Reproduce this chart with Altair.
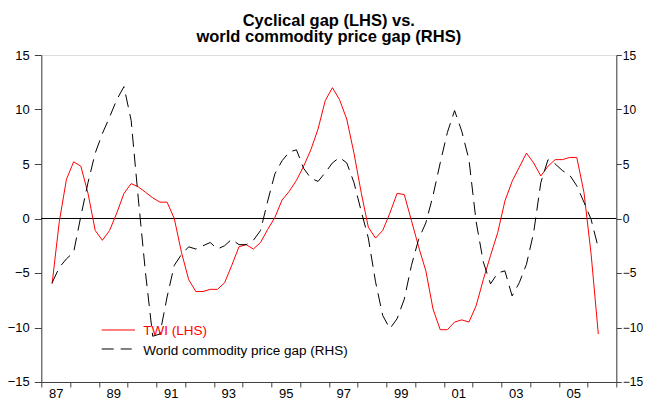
import altair as alt
import pandas as pd

# ---------------- data ----------------
title_lines = ["Cyclical gap (LHS) vs.", "world commodity price gap (RHS)"]
series_names = ["TWI (LHS)", "World commodity price gap (RHS)"]
first_quarter = "1987Q2"

twi = [-6.0, -0.3, 3.6, 5.2, 4.8, 2.3, -1.1, -2.0, -1.1, 0.5,
       2.3, 3.2, 2.9, 2.4, 1.9, 1.5, 1.5, 0.0, -3.1, -5.6,
       -6.7, -6.7, -6.5, -6.5, -5.9, -4.3, -2.6, -2.4, -2.8, -2.2,
       -1.0, 0.1, 1.7, 2.5, 3.5, 4.8, 6.3, 8.2, 10.8, 12.0,
       10.9, 9.1, 6.0, 2.4, -0.8, -1.8, -1.1, 0.5, 2.3, 2.2,
       -0.2, -2.6, -4.8, -8.3, -10.2, -10.2, -9.5, -9.3, -9.5, -8.0,
       -5.6, -3.4, -1.3, 1.6, 3.4, 4.7, 6.0, 5.1, 3.9, 4.8,
       5.4, 5.4, 5.6, 5.6, 2.4, -3.3, -10.6]

commodity = [-5.9, -4.5, -3.7, -3.1, 0.2, 3.3, 6.0, 7.8, 9.3, 10.9,
             12.1, 9.0, 1.8, -5.0, -10.8, -10.6, -7.2, -4.3, -3.3, -2.6,
             -2.8, -2.5, -2.2, -2.8, -2.5, -1.9, -2.4, -2.4, -2.0, -1.1,
             1.6, 4.1, 5.3, 6.1, 6.3, 4.6, 3.7, 3.4, 4.2, 5.1,
             5.6, 5.1, 3.3, 0.7, -1.8, -5.8, -8.9, -10.1, -9.2, -7.4,
             -4.3, -1.9, -0.4, 2.1, 5.1, 7.9, 9.9, 8.0, 5.4, -0.3,
             -4.0, -6.0, -5.0, -4.8, -7.1, -5.9, -4.2, -1.3, 3.3, 5.4,
             5.0, 4.4, 4.0, 3.0, 1.5, -0.1, -2.7]

year_ticks = list(range(1987, 2008))
year_labels = {1987: "87", 1989: "89", 1991: "91", 1993: "93", 1995: "95",
               1997: "97", 1999: "99", 2001: "01", 2003: "03", 2005: "05"}
y_ticks = [-15, -10, -5, 0, 5, 10, 15]
y_domain = [-15, 15]
x_domain = [1987, 2007]

# ---------------- build ----------------
quarters = pd.period_range(first_quarter, periods=len(twi), freq="Q")
t = [p.year + (p.quarter - 1) / 4 + 0.125 for p in quarters]
df = pd.DataFrame({"t": t, "twi": twi, "commodity": commodity})

W, H = 575, 327
FONT = "Liberation Sans"
AX = "#404040"

label_expr = ""
for yr, lab in year_labels.items():
    label_expr += f"datum.value == {yr} ? '{lab}' : "
label_expr += "''"

x_enc = alt.X(
    "t:Q",
    scale=alt.Scale(domain=x_domain, nice=False, zero=False),
    axis=alt.Axis(values=year_ticks, labelExpr=label_expr, labelOffset=W / 20 / 2,
                  tickSize=5, labelPadding=1, grid=False, title=None,
                  domainColor=AX, tickColor=AX, labelColor="black",
                  labelFont=FONT, labelFontSize=13, labelFlush=False,
                  labelOverlap=False, labelBound=False),
)
yscale = alt.Scale(domain=y_domain, nice=False, zero=False)

def y_axis(orient, tick, pad, size):
    return alt.Axis(values=y_ticks, orient=orient, tickSize=tick, labelPadding=pad,
                    grid=False, title=None, domainColor=AX, tickColor=AX,
                    labelColor="black", labelFont=FONT, labelFontSize=size)

base = alt.Chart(df)
red = base.mark_line(color="#ff0000", strokeWidth=1).encode(
    x=x_enc, y=alt.Y("twi:Q", scale=yscale, axis=y_axis("left", 7, 5, 13)))
dashed = base.mark_line(color="black", strokeWidth=1, strokeDash=[13, 7]).encode(
    x=x_enc, y=alt.Y("commodity:Q", scale=yscale, axis=y_axis("right", 5, 1, 12)))
zero = alt.Chart(pd.DataFrame({"v": [0]})).mark_rule(color="black", strokeWidth=1).encode(
    y=alt.Y("v:Q", scale=yscale, axis=None))

leg_red_line = alt.Chart(pd.DataFrame({"name": [series_names[0]]})).mark_rule(
    color="#ff0000", strokeWidth=1).encode(
    x=alt.value(60.4), x2=alt.value(93.7), y=alt.value(275))
leg_red_text = alt.Chart(pd.DataFrame({"name": [series_names[0]]})).mark_text(
    align="left", baseline="middle", color="#ff0000", font=FONT, fontSize=13.5).encode(
    text="name:N", x=alt.value(102), y=alt.value(276.5))
leg_blk_line = alt.Chart(pd.DataFrame({"name": [series_names[1]]})).mark_rule(
    color="black", strokeWidth=1, strokeDash=[12, 7]).encode(
    x=alt.value(60.4), x2=alt.value(90.4), y=alt.value(294))
leg_blk_text = alt.Chart(pd.DataFrame({"name": [series_names[1]]})).mark_text(
    align="left", baseline="middle", color="black", font=FONT, fontSize=13.5).encode(
    text="name:N", x=alt.value(102), y=alt.value(296))

chart = alt.layer(
    zero, red, dashed, leg_red_line, leg_red_text, leg_blk_line, leg_blk_text
).resolve_scale(y="independent").properties(
    width=W, height=H,
    title=alt.TitleParams(text=title_lines, font=FONT, fontSize=16.5, fontWeight="bold",
                          anchor="middle", color="black", offset=3, lineHeight=17),
    autosize=alt.AutoSizeParams(type="none"),
    padding={"left": 33.3, "top": 47, "right": 26.5, "bottom": 20},
).configure_view(stroke=None).configure(background="white")

chart.save("out.html", embed_options={"renderer": "svg", "actions": False})
